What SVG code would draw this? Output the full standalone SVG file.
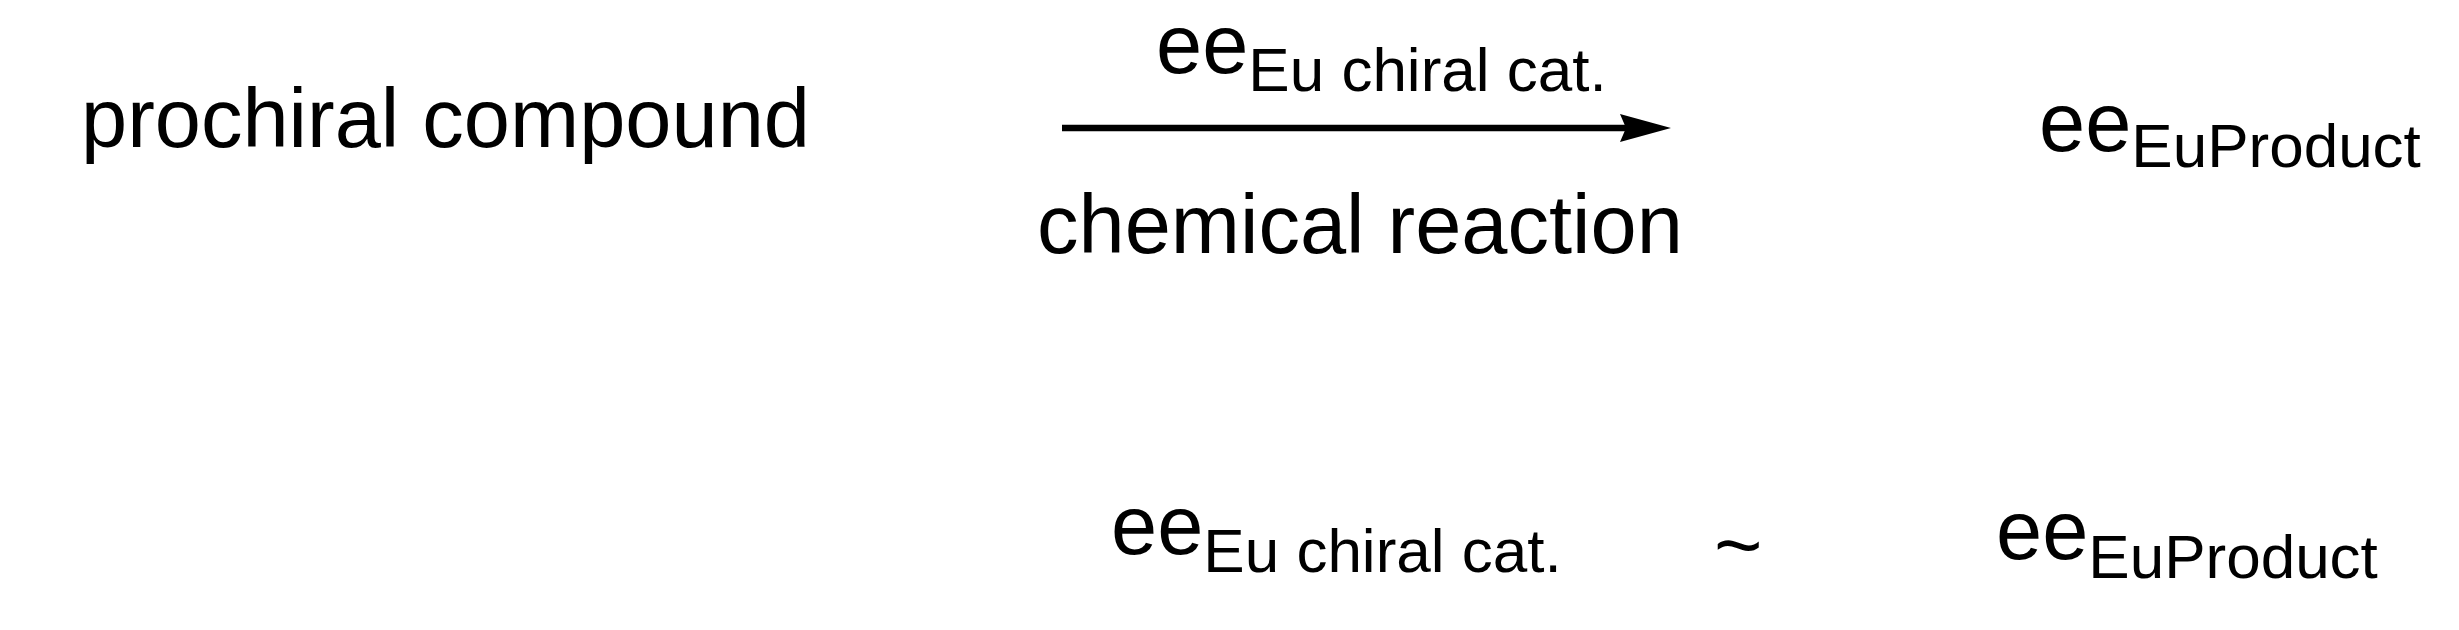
<svg xmlns="http://www.w3.org/2000/svg" width="2459" height="630" viewBox="0 0 2459 630">
<style>
.t{font-family:"Liberation Sans",Arial,sans-serif;font-size:83px;fill:#000}
.s{font-size:62px}
</style>
<rect width="2459" height="630" fill="#fff"/>
<g id="reactant"><text class="t" x="81" y="147">prochiral compound</text></g>
<g id="catalyst-label"><text class="t" x="1156" y="73">ee<tspan class="s" dy="18">Eu chiral cat.</tspan></text></g>
<g id="reaction-label"><text class="t" x="1037" y="253">chemical reaction</text></g>
<g id="product"><text class="t" x="2039" y="151">ee<tspan class="s" dy="16">EuProduct</tspan></text></g>
<g id="eq-left"><text class="t" x="1111" y="554">ee<tspan class="s" dy="18">Eu chiral cat.</tspan></text></g>
<g id="eq-sign"><text class="t" x="1714" y="574">~</text></g>
<g id="eq-right"><text class="t" x="1996" y="559">ee<tspan class="s" dy="19">EuProduct</tspan></text></g>
<g id="connectors">
<line x1="1062" y1="128" x2="1630" y2="128" stroke="#000" stroke-width="6.5"/>
<path d="M1671,128 L1620,114 L1626,128 L1620,142 Z" fill="#000"/>
</g>
</svg>
